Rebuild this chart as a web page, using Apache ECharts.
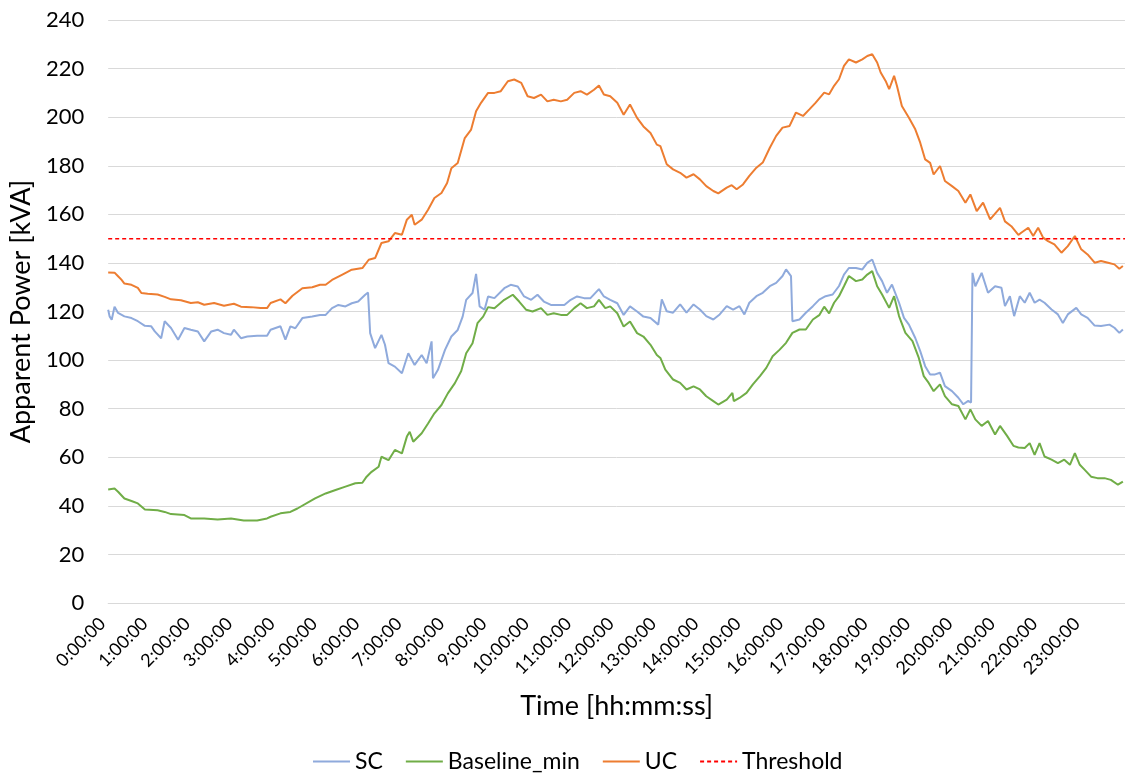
<!DOCTYPE html>
<html>
<head>
<meta charset="utf-8">
<script src="https://cdn.jsdelivr.net/npm/echarts@6/dist/echarts.min.js"></script>
<style>html,body{margin:0;padding:0;background:#fff}#c{width:1125px;height:774px}</style>
</head>
<body>
<div id="c"></div>
<script>
// x = minutes since 0:00:00, y = kVA
const scPoints = [[0,120.7],[2,118],[5,116.6],[9,122],[14,119.4],[23,118],[33,117.3],[42,116],[52,114.1],[61,113.9],[66,111.8],[75,109],[80,116],[89,113.2],[99,108.4],[108,113.2],[117,112.5],[127,111.8],[136,107.7],[146,111.8],[155,112.5],[164,111.1],[174,110.4],[178,112.5],[188,109],[197,109.7],[211,110],[225,110],[230,112.5],[244,113.9],[251,108.4],[258,113.9],[265,113.1],[275,117.3],[289,117.9],[300,118.6],[308,118.6],[317,121.4],[326,122.7],[336,122.1],[345,123.4],[354,124.1],[364,126.9],[368,127.8],[371,111.1],[378,104.9],[387,110.4],[392,106.3],[397,98.7],[406,97.3],[416,94.6],[425,102.8],[434,98],[444,102.1],[451,98.7],[458,107.7],[460,92.5],[467,96],[477,104.2],[486,109.7],[495,112.4],[502,117.9],[507,124.8],[516,127.6],[521,135.5],[526,122.1],[533,120.7],[538,126.2],[547,125.5],[561,129.6],[570,131],[580,130.3],[589,126.2],[599,124.8],[608,126.9],[617,124.1],[627,122.7],[636,122.7],[646,122.7],[655,124.8],[664,126.2],[674,125.5],[683,125.5],[695,129.2],[702,126.2],[711,124.8],[721,123.4],[730,118.6],[739,122.1],[749,120],[758,117.9],[768,117.3],[779,114.6],[784,125],[791,120.1],[800,119.5],[810,122.9],[819,119.5],[829,122.9],[838,120.8],[847,118.1],[857,116.7],[866,118.8],[876,122.2],[885,120.8],[894,122.2],[901,118.8],[908,123.6],[918,126.3],[927,127.7],[937,130.4],[946,131.8],[955,134.6],[960,137.3],[967,134.6],[969,116],[979,116.7],[988,119.5],[998,122.2],[1007,124.9],[1016,126.3],[1026,127],[1035,130.5],[1042,135.2],[1049,137.9],[1059,137.9],[1068,137.3],[1075,140],[1082,141.4],[1089,135.9],[1096,132.5],[1103,127.7],[1110,131.1],[1120,123.6],[1127,117.4],[1134,114.6],[1143,109.1],[1150,103.7],[1157,97.5],[1164,94.1],[1171,94.1],[1178,94.8],[1185,89.3],[1195,87.2],[1204,84.5],[1211,81.8],[1218,83.2],[1222,82.5],[1224,135.9],[1228,130.4],[1237,135.9],[1246,127.7],[1256,130.4],[1265,129.8],[1270,122.2],[1277,126.3],[1283,118.1],[1291,126.3],[1298,123.6],[1305,127.7],[1312,123.6],[1319,124.9],[1326,123.6],[1336,120.8],[1345,118.8],[1352,115.3],[1359,118.8],[1371,121.5],[1378,118.8],[1387,117.4],[1397,114.2],[1406,114],[1418,114.6],[1425,113.3],[1432,111.2],[1437,112.6]];

const baselinePoints = [[0,46.7],[9,47.1],[14,45.8],[23,43],[33,42],[42,41],[52,38.5],[70,38.2],[80,37.5],[89,36.6],[108,36.2],[117,34.8],[136,34.8],[155,34.4],[174,34.8],[192,34],[211,34],[225,34.8],[230,35.5],[244,36.9],[258,37.5],[268,38.9],[293,43.1],[308,45.1],[322,46.5],[336,47.9],[350,49.3],[360,49.5],[366,52],[373,54],[383,56.1],[387,60.2],[397,58.8],[406,63],[416,61.6],[423,68.5],[427,70.5],[432,66.4],[444,69.9],[453,73.9],[462,78.1],[472,81.5],[481,86.3],[491,90.5],[500,95.5],[507,102.8],[516,106.9],[523,115.2],[531,117.9],[538,121.8],[547,121.3],[561,124.8],[573,126.9],[582,124.1],[592,120.7],[601,120],[613,121.4],[622,118.6],[631,119.3],[641,118.6],[650,118.6],[660,121.4],[669,123.4],[678,121.4],[688,122.1],[695,124.8],[704,121.4],[711,122.1],[721,119.3],[730,113.8],[739,115.9],[749,111.1],[758,109.7],[768,106.3],[777,102.1],[782,100.9],[789,96.1],[800,92],[810,90.6],[819,87.9],[829,89.2],[838,87.9],[847,85.1],[857,83.1],[864,81.7],[876,83.7],[884,86.5],[886,83.1],[894,84.4],[904,86.5],[913,90],[923,93.4],[932,96.8],[941,101.6],[951,104.3],[960,107.1],[969,111.2],[979,112.6],[988,112.6],[998,116.7],[1007,118.5],[1014,122],[1021,119.2],[1028,123.6],[1035,126.3],[1042,130.4],[1049,134.6],[1059,132.5],[1068,133.2],[1075,135.2],[1082,136.6],[1089,130.4],[1096,127],[1106,121.5],[1113,126.3],[1120,118.1],[1129,111.2],[1139,107.8],[1148,100.9],[1155,93.4],[1162,90.6],[1169,87.2],[1178,90],[1185,85.2],[1195,81.8],[1204,81.1],[1214,75.6],[1221,79.7],[1228,75.6],[1237,72.9],[1246,74.9],[1256,69.4],[1263,72.9],[1273,68.8],[1282,64.7],[1289,64],[1298,63.8],[1305,65.8],[1312,61],[1319,65.8],[1326,60.3],[1336,59],[1345,57.6],[1354,59],[1362,56.9],[1369,61.7],[1376,56.9],[1383,54.8],[1392,52],[1401,51.4],[1411,51.4],[1420,50.7],[1430,48.7],[1437,50]];

const ucPoints = [[0,136.1],[9,136],[14,134.5],[19,133],[23,131.5],[33,131],[42,129.7],[47,127.6],[56,127.3],[70,127],[80,126],[89,125],[103,124.6],[117,123.5],[127,123.8],[136,122.8],[150,123.5],[164,122.4],[178,123.2],[188,122],[202,121.8],[216,121.4],[225,121.4],[230,123.5],[244,125],[251,123.4],[261,126.5],[275,129.6],[289,130],[300,131],[308,131],[317,133],[331,135.1],[345,137.2],[360,137.9],[369,141.3],[378,142],[387,148.2],[397,148.9],[406,152.3],[416,151.6],[423,157.8],[430,159.8],[434,155.7],[444,157.8],[453,161.9],[462,166.7],[472,168.8],[480,172.9],[486,179],[495,181.1],[505,191.4],[514,194.9],[521,202.4],[528,205.9],[538,210],[547,210],[556,210.7],[566,214.8],[575,215.5],[585,214.1],[594,208.6],[603,207.9],[613,209.3],[622,206.5],[631,207.2],[641,206.5],[650,207.2],[660,210],[669,210.7],[678,209.3],[688,211.3],[695,213],[702,209.3],[711,208.6],[721,205.9],[730,201],[739,205.2],[749,199.7],[758,196.2],[768,193.5],[777,188.7],[782,188.1],[791,180.6],[800,178.5],[810,177.1],[819,175.1],[829,176.5],[838,174.4],[847,171.6],[857,169.6],[864,168.6],[876,171],[883,172],[890,170.3],[899,172.3],[908,175.8],[918,179.2],[927,181.3],[937,187.4],[946,192.3],[955,195.7],[965,196.4],[974,201.9],[984,200.5],[993,203.2],[1002,206],[1014,210.1],[1021,209.4],[1028,212.9],[1035,215.6],[1042,221.1],[1049,223.8],[1059,222.5],[1068,223.8],[1075,225.2],[1082,225.9],[1089,222.5],[1094,218.4],[1101,214.9],[1106,211.5],[1113,217],[1117,212.9],[1124,204.6],[1134,199.8],[1143,195],[1150,189.5],[1157,182.6],[1164,181.2],[1169,176.4],[1178,179.9],[1185,173.7],[1195,171.6],[1204,169.6],[1214,164.8],[1221,168.2],[1230,161.3],[1239,164.8],[1249,157.9],[1263,162.7],[1270,157.1],[1279,155.1],[1289,151.5],[1293,152.4],[1303,154.5],[1310,151.1],[1317,154.5],[1324,150.4],[1331,149],[1340,147.6],[1350,144.2],[1359,146.9],[1369,151.1],[1378,145.6],[1387,143.5],[1397,140.1],[1406,140.8],[1416,140.1],[1425,139.4],[1432,137.6],[1437,138.7]];

const thresholdPoints = [[0,150],[1440,150]];

const seriesNames = ['SC','Baseline_min','UC','Threshold'];
const yAxisTitle = 'Apparent Power [kVA]';
const xAxisTitle = 'Time [hh:mm:ss]';

const FONT = 'Lato';
const chart = echarts.init(document.getElementById('c'), null, {renderer:'canvas'});
chart.setOption({
  backgroundColor:'#ffffff',
  animation:false,
  grid:{left:105, right:0, top:20, bottom:171, containLabel:false},
  legend:{
    data:seriesNames,
    left:307, top:745,
    itemWidth:37, itemHeight:14, itemGap:22,
    itemStyle:{opacity:0},
    textStyle:{fontFamily:FONT, fontSize:23, color:'#000'}
  },
  xAxis:{
    type:'value', min:0, max:1440, interval:60,
    name:xAxisTitle, nameLocation:'middle', nameGap:90,
    nameTextStyle:{fontFamily:FONT, fontSize:27, color:'#000'},
    axisLine:{show:true, lineStyle:{color:'#D9D9D9', width:1}},
    axisTick:{show:false},
    splitLine:{show:false},
    axisLabel:{
      rotate:45, fontFamily:FONT, fontSize:18, color:'#000', margin:12,
      padding:[0,8,0,0],
      showMaxLabel:false,
      formatter:v => v >= 1440 ? '' : (v/60) + ':00:00'
    }
  },
  yAxis:{
    type:'value', min:0, max:240, interval:20,
    name:yAxisTitle, nameLocation:'middle', nameGap:66,
    nameTextStyle:{fontFamily:FONT, fontSize:27, color:'#000'},
    axisLine:{show:false}, axisTick:{show:false},
    splitLine:{lineStyle:{color:'#D9D9D9', width:1}},
    axisLabel:{fontFamily:FONT, fontSize:22, color:'#000', margin:24}
  },
  series:[
    {name:'SC', type:'line', data:scPoints, symbol:'none', lineStyle:{color:'#8FAADC', width:2}, itemStyle:{color:'#8FAADC'}},
    {name:'Baseline_min', type:'line', data:baselinePoints, symbol:'none', lineStyle:{color:'#70AD47', width:2}, itemStyle:{color:'#70AD47'}},
    {name:'UC', type:'line', data:ucPoints, symbol:'none', lineStyle:{color:'#ED7D31', width:2}, itemStyle:{color:'#ED7D31'}},
    {name:'Threshold', type:'line', data:thresholdPoints, symbol:'none', lineStyle:{color:'#FF0000', width:1.5, type:[4,3]}, itemStyle:{color:'#FF0000'}}
  ]
});
</script>
</body>
</html>
